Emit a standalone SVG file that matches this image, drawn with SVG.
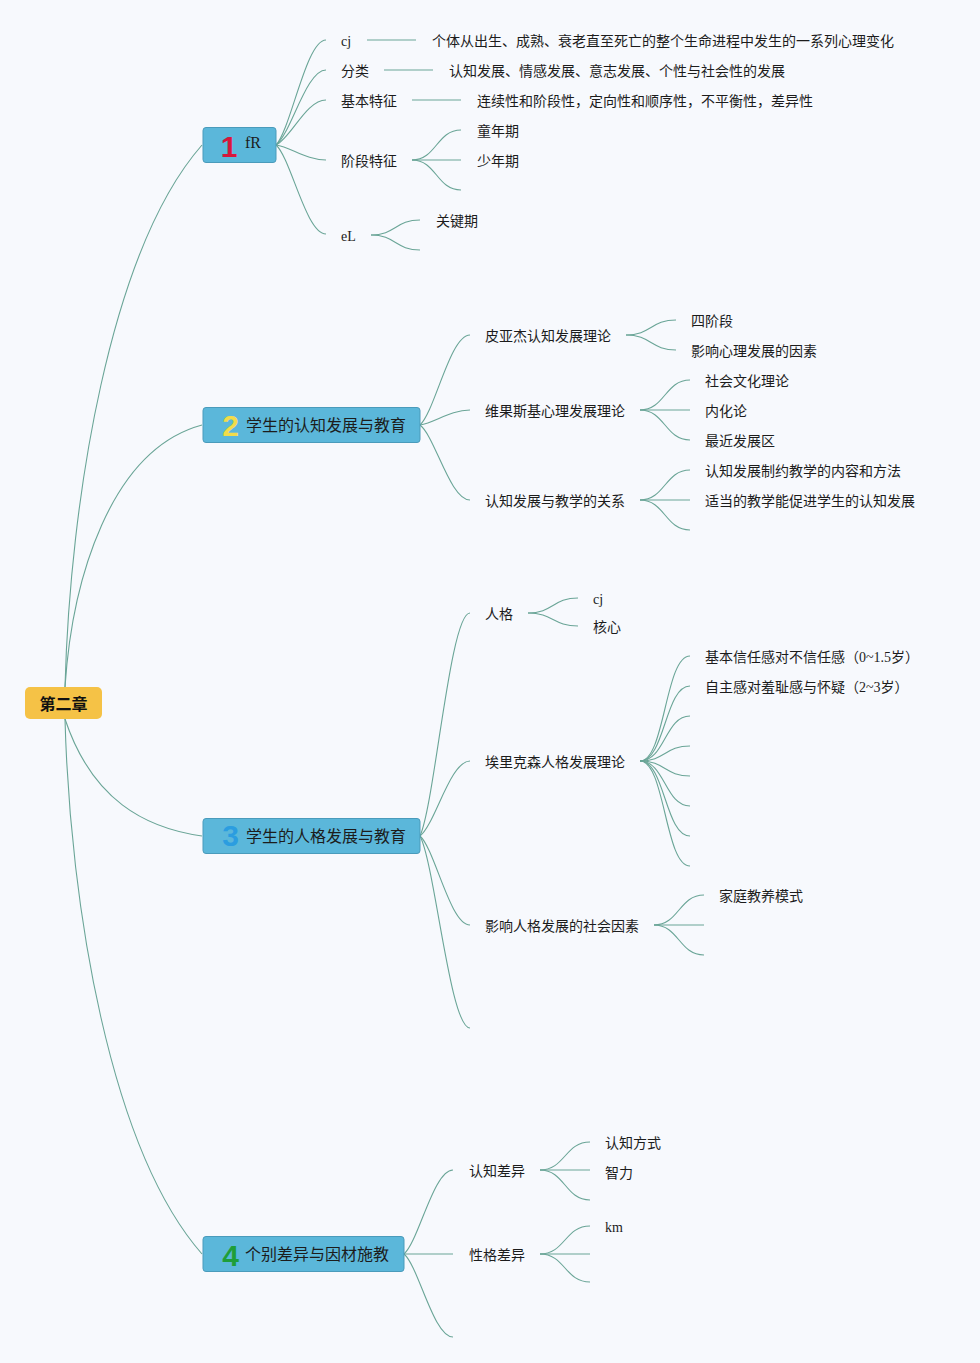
<svg xmlns="http://www.w3.org/2000/svg" width="980" height="1363" viewBox="0 0 980 1363">
<style>
.bg{fill:#f7f9fd}
.c{fill:none;stroke:#6aa597;stroke-width:1.1}
.t{font-family:"Liberation Serif","Noto Sans CJK SC",serif;font-size:14px;fill:#1c1c1c}
.bt{font-family:"Liberation Serif","Noto Sans CJK SC",serif;font-size:16px;fill:#1c1c1c}
.box{fill:#5bb7da;stroke:#4a9bbb;stroke-width:1}
.root{fill:#f5c246}
.rt{font-family:"Noto Sans CJK SC",sans-serif;font-size:16px;font-weight:bold;fill:#111}
.num{font-family:"Liberation Sans",sans-serif;font-weight:bold;font-size:30px;text-anchor:middle}
</style>
<rect class="bg" x="0" y="0" width="980" height="1363"/>
<g id="connectors">
<path class="c" d="M65,687 C70,500 110,250 202,145"/>
<path class="c" d="M65,687 C72,580 110,450 202,425"/>
<path class="c" d="M65,719 C92,800 145,828 202,836"/>
<path class="c" d="M65,719 C70,906 110,1149 202,1254"/>
<path class="c" d="M276,145 C291,129.25 306,40 326,40"/>
<path class="c" d="M276,145 C291,133.75 306,70 326,70"/>
<path class="c" d="M276,145 C291,138.25 306,100 326,100"/>
<path class="c" d="M276,145 C291,147.25 306,160 326,160"/>
<path class="c" d="M276,145 C291,158.35 306,234 326,234"/>
<path class="c" d="M367,40 H416"/>
<path class="c" d="M384,70 H433"/>
<path class="c" d="M412,100 H461"/>
<path class="c" d="M412,160 C436.5,160 436.5,130 461,130"/>
<path class="c" d="M412,160 H461"/>
<path class="c" d="M412,160 C436.5,160 436.5,190 461,190"/>
<path class="c" d="M371,235 C395.5,235 395.5,220 420,220"/>
<path class="c" d="M371,235 C395.5,235 395.5,250 420,250"/>
<path class="c" d="M420,425 C435,411.5 450,335 470,335"/>
<path class="c" d="M420,425 C435,422.75 450,410 470,410"/>
<path class="c" d="M420,425 C435,436.25 450,500 470,500"/>
<path class="c" d="M626,335 C651,335 651,320 676,320"/>
<path class="c" d="M626,335 C651,335 651,350 676,350"/>
<path class="c" d="M640,410 C665,410 665,380 690,380"/>
<path class="c" d="M640,410 H690"/>
<path class="c" d="M640,410 C665,410 665,440 690,440"/>
<path class="c" d="M640,500 C665,500 665,470 690,470"/>
<path class="c" d="M640,500 H690"/>
<path class="c" d="M640,500 C665,500 665,530 690,530"/>
<path class="c" d="M420,836 C435,802.5 450,613 470,613"/>
<path class="c" d="M420,836 C435,824.75 450,761 470,761"/>
<path class="c" d="M420,836 C435,849.35 450,925 470,925"/>
<path class="c" d="M420,836 C435,864.8 450,1028 470,1028"/>
<path class="c" d="M528,613 C553,613 553,598 578,598"/>
<path class="c" d="M528,613 C553,613 553,626 578,626"/>
<path class="c" d="M640,761 C665,761 665,656 690,656"/>
<path class="c" d="M640,761 C665,761 665,686 690,686"/>
<path class="c" d="M640,761 C665,761 665,716 690,716"/>
<path class="c" d="M640,761 C665,761 665,746 690,746"/>
<path class="c" d="M640,761 C665,761 665,776 690,776"/>
<path class="c" d="M640,761 C665,761 665,806 690,806"/>
<path class="c" d="M640,761 C665,761 665,836 690,836"/>
<path class="c" d="M640,761 C665,761 665,866 690,866"/>
<path class="c" d="M654,925 C679,925 679,895 704,895"/>
<path class="c" d="M654,925 H704"/>
<path class="c" d="M654,925 C679,925 679,955 704,955"/>
<path class="c" d="M404,1254 C418.7,1241.4 433.4,1170 453,1170"/>
<path class="c" d="M404,1254 H453"/>
<path class="c" d="M404,1254 C418.7,1266.5 433.4,1337 453,1337"/>
<path class="c" d="M540,1170 C565,1170 565,1142 590,1142"/>
<path class="c" d="M540,1170 H590"/>
<path class="c" d="M540,1170 C565,1170 565,1200 590,1200"/>
<path class="c" d="M540,1254 C565,1254 565,1226 590,1226"/>
<path class="c" d="M540,1254 H590"/>
<path class="c" d="M540,1254 C565,1254 565,1282 590,1282"/>
</g>
<g id="root"><rect class="root" x="25" y="687" width="77" height="32" rx="5"/><text class="rt" x="63.5" y="710" text-anchor="middle">第二章</text></g>
<g id="b1"><rect class="box" x="203" y="127.5" width="73" height="35" rx="3"/><text class="num" x="229" y="157" fill="#d6173c" font-size="33">1</text><text class="bt" x="245" y="147.5">fR</text></g>
<g id="b2"><rect class="box" x="203" y="407.5" width="217" height="35" rx="3"/><text class="num" x="230.5" y="435.5" fill="#f2dc4a">2</text><text class="bt" x="246" y="431">学生的认知发展与教育</text></g>
<g id="b3"><rect class="box" x="203" y="818.5" width="217" height="35" rx="3"/><text class="num" x="230.5" y="846" fill="#2b9de0">3</text><text class="bt" x="246" y="842">学生的人格发展与教育</text></g>
<g id="b4"><rect class="box" x="203" y="1236.5" width="201" height="35" rx="3"/><text class="num" x="230.5" y="1265.5" fill="#1e9e3a">4</text><text class="bt" x="245" y="1260">个别差异与因材施教</text></g>
<g id="n1-1"><text class="t" x="341" y="46">cj</text></g>
<g id="n1-1-1"><text class="t" x="432" y="46">个体从出生、成熟、衰老直至死亡的整个生命进程中发生的一系列心理变化</text></g>
<g id="n1-2"><text class="t" x="341" y="76">分类</text></g>
<g id="n1-2-1"><text class="t" x="449" y="76">认知发展、情感发展、意志发展、个性与社会性的发展</text></g>
<g id="n1-3"><text class="t" x="341" y="106">基本特征</text></g>
<g id="n1-3-1"><text class="t" x="477" y="106">连续性和阶段性，定向性和顺序性，不平衡性，差异性</text></g>
<g id="n1-4"><text class="t" x="341" y="166">阶段特征</text></g>
<g id="n1-4-1"><text class="t" x="477" y="136">童年期</text></g>
<g id="n1-4-2"><text class="t" x="477" y="166">少年期</text></g>
<g id="n1-5"><text class="t" x="341" y="241">eL</text></g>
<g id="n1-5-1"><text class="t" x="436" y="226">关键期</text></g>
<g id="n2-1"><text class="t" x="485" y="341">皮亚杰认知发展理论</text></g>
<g id="n2-1-1"><text class="t" x="691" y="326">四阶段</text></g>
<g id="n2-1-2"><text class="t" x="691" y="356">影响心理发展的因素</text></g>
<g id="n2-2"><text class="t" x="485" y="416">维果斯基心理发展理论</text></g>
<g id="n2-2-1"><text class="t" x="705" y="386">社会文化理论</text></g>
<g id="n2-2-2"><text class="t" x="705" y="416">内化论</text></g>
<g id="n2-2-3"><text class="t" x="705" y="446">最近发展区</text></g>
<g id="n2-3"><text class="t" x="485" y="506">认知发展与教学的关系</text></g>
<g id="n2-3-1"><text class="t" x="705" y="476">认知发展制约教学的内容和方法</text></g>
<g id="n2-3-2"><text class="t" x="705" y="506">适当的教学能促进学生的认知发展</text></g>
<g id="n3-1"><text class="t" x="485" y="619">人格</text></g>
<g id="n3-1-1"><text class="t" x="593" y="604">cj</text></g>
<g id="n3-1-2"><text class="t" x="593" y="632">核心</text></g>
<g id="n3-2"><text class="t" x="485" y="767">埃里克森人格发展理论</text></g>
<g id="n3-2-1"><text class="t" x="705" y="662">基本信任感对不信任感（0~1.5岁）</text></g>
<g id="n3-2-2"><text class="t" x="705" y="692">自主感对羞耻感与怀疑（2~3岁）</text></g>
<g id="n3-3"><text class="t" x="485" y="931">影响人格发展的社会因素</text></g>
<g id="n3-3-1"><text class="t" x="719" y="901">家庭教养模式</text></g>
<g id="n4-1"><text class="t" x="469" y="1176">认知差异</text></g>
<g id="n4-1-1"><text class="t" x="605" y="1148">认知方式</text></g>
<g id="n4-1-2"><text class="t" x="605" y="1178">智力</text></g>
<g id="n4-2"><text class="t" x="469" y="1260">性格差异</text></g>
<g id="n4-2-1"><text class="t" x="605" y="1232">km</text></g>
</svg>
